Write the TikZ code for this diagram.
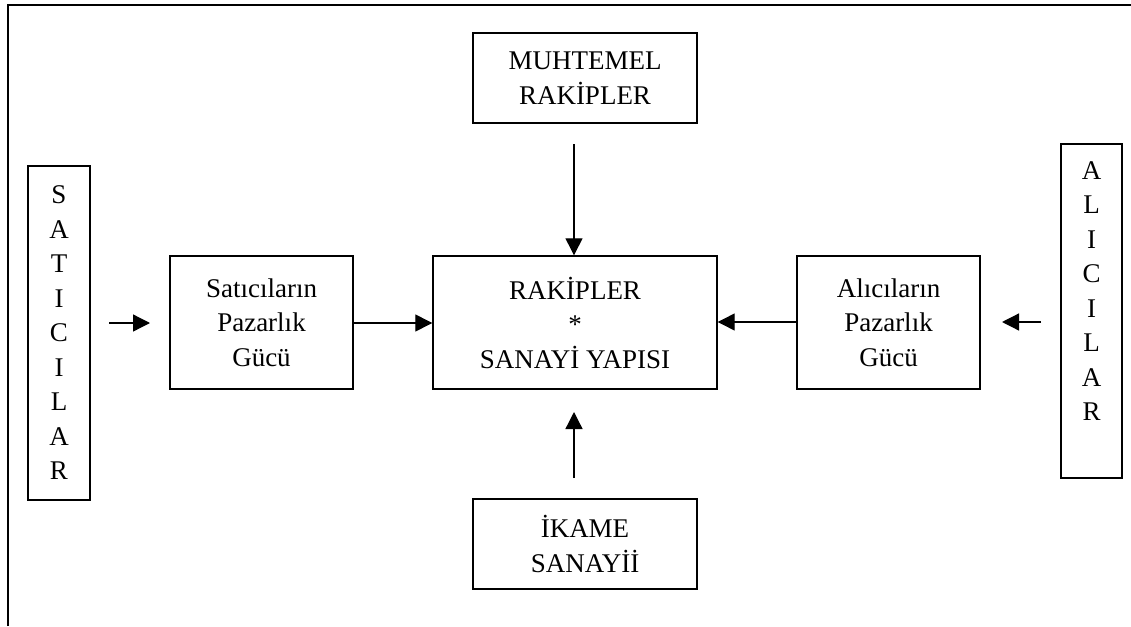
\documentclass[tikz,border=0pt]{standalone}
\usepackage{fontspec}
\setmainfont{Liberation Serif}
\usetikzlibrary{arrows.meta}
\begin{document}
\begin{tikzpicture}[x=1pt,y=1pt,
  every node/.style={font=\fontsize{27}{34.5}\selectfont},
  box/.style={draw,line width=1.4pt,align=center,inner sep=0pt},
  txt/.style={align=center,inner sep=0pt},
  link/.style={line width=1.3pt,-{Triangle[length=17pt,width=17pt]}}]
  \useasboundingbox (0,0) rectangle (1131,-626);

  % open frame: left and top edges
  \draw[line width=1.6pt] (8,-626) -- (8,-5) -- (1131,-5);

  % side columns
  \node[box,minimum width=62pt,minimum height=334pt] (sat) at (59,-333)
    {S\\A\\T\\I\\C\\I\\L\\A\\R};
  \node[box,minimum width=61pt,minimum height=334pt] (alic) at (1091.5,-311) {};
  \node[txt,anchor=north] (alictext) at (1091.5,-161)
    {A\\L\\I\\C\\I\\L\\A\\R};

  % bargaining power boxes
  \node[box,minimum width=183pt,minimum height=133pt] (satg) at (261.5,-322.5)
    {Satıcıların\\Pazarlık\\Gücü};
  \node[box,minimum width=183pt,minimum height=133pt] (alg) at (888.5,-322.5)
    {Alıcıların\\Pazarlık\\Gücü};

  % centre
  \node[box,minimum width=284pt,minimum height=133pt] (rak) at (575,-322.5)
    {RAKİPLER\\*\\SANAYİ YAPISI};

  % top and bottom
  \node[box,minimum width=224pt,minimum height=90pt] (muh) at (585,-78)
    {MUHTEMEL\\RAKİPLER};
  \node[box,minimum width=224pt,minimum height=90pt] (ika) at (585,-544)
    {İKAME\\SANAYİİ};

  % free arrow ends
  \coordinate (sa) at (109,-323);
  \coordinate (sb) at (150,-323);
  \coordinate (aa) at (1041,-322);
  \coordinate (ab) at (1002,-322);
  \coordinate (ma) at (574,-144);
  \coordinate (ia) at (574,-478);

  % connectors
  \draw[link] (sa) -- (sb);
  \draw[link] (aa) -- (ab);
  \draw[link] (satg.east |- 0,-323) -- (rak.west |- 0,-323);
  \draw[link] (alg.west |- 0,-322) -- (rak.east |- 0,-322);
  \draw[link] (ma) -- (ma |- rak.north);
  \draw[link] (ia) -- (574,-412);
\end{tikzpicture}
\end{document}
